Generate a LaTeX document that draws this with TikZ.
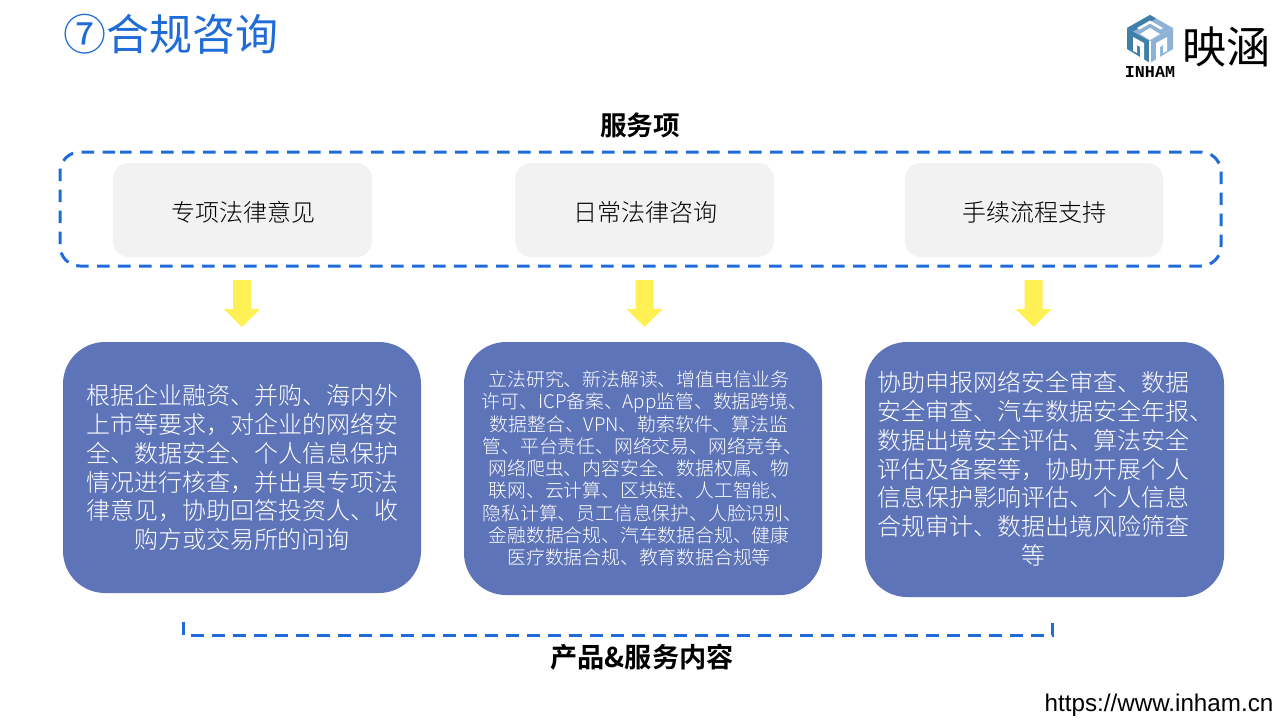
\documentclass[tikz,border=0pt]{standalone}
\usepackage{fontspec}
\setmainfont{Noto Sans CJK SC}[UprightFont=* Light,BoldFont=* Bold]
\newfontfamily\cjkreg{Noto Sans CJK SC}
\newfontfamily\cjkbold{Noto Sans CJK SC Bold}
\newfontfamily\urlfont{Liberation Sans}
\newfontfamily\logofont{Liberation Mono Bold}
\definecolor{tblue}{HTML}{1F6BD8}
\definecolor{boxblue}{HTML}{5E74B8}
\definecolor{boxgray}{HTML}{F2F2F2}
\definecolor{arrowy}{HTML}{FFF153}
\definecolor{logod}{HTML}{3F7FA8}
\definecolor{logol}{HTML}{8DB2D6}
\newcommand{\fs}[2]{\fontsize{#1}{#2}\selectfont}
\tikzset{
  x=1pt,y=-1pt,
  graybox/.style={fill=boxgray,rounded corners=16pt,minimum height=94pt,minimum width=259pt,inner sep=0pt,font=\fs{24}{28},text=black,text height=25pt,text depth=3pt},
  bluebox/.style={fill=boxblue,rounded corners=42pt,inner sep=0pt,text=white,align=center,text width=340pt},
  dashline/.style={draw=tblue,line width=3pt,dash pattern=on 12.5pt off 8.5pt},
  headlabel/.style={inner sep=0pt,font=\cjkbold\fs{27.2}{30},text=black},
  blockarrow/.style={fill=arrowy,draw=none},
}
\begin{document}
\begin{tikzpicture}
\useasboundingbox (0,0) rectangle (1280,720);
\node[inner sep=0pt,text=tblue,font=\cjkreg\fs{43}{48}] (title) at (170.5,34) {⑦合规咨询};
% logo
\fill[logod] (1127,28) -- (1150,41) -- (1150,63) -- (1127,49) -- cycle;
\fill[logol] (1173,28) -- (1150,41) -- (1150,63) -- (1173,49) -- cycle;
\fill[logol] (1150,15) -- (1173,28) -- (1150,41) -- (1127,28) -- cycle;
\fill[logod] (1150,15) -- (1156,18.5) -- (1133,31.5) -- (1127,28) -- cycle;
\fill[white] (1150,28) -- (1160,34) -- (1150,40) -- (1140,34) -- cycle;
\fill[white] (1150,20.5) -- (1163,28) -- (1160.5,29.5) -- (1150,23.5) -- (1139.5,29.5) -- (1137,28) -- cycle;
\fill[white] (1149,41) -- (1151,41) -- (1151,64) -- (1149,64) -- cycle;
\fill[white] (1133,37) -- (1144,43) -- (1144,60) -- (1140,58) -- (1140,47) -- (1137,45) -- (1137,53) -- (1133,51) -- cycle;
\fill[white] (1167,37) -- (1156,43) -- (1156,60) -- (1160,58) -- (1160,47) -- (1163,45) -- (1163,53) -- (1167,51) -- cycle;
\node[inner sep=0pt,font=\logofont\fs{16.7}{17}] (logotext) at (1150,71.5) {INHAM};
\node[inner sep=0pt,font=\cjkreg\fs{44}{46}] (logocn) at (1226.5,47) {映涵};
\node[headlabel,font=\cjkbold\fs{26.67}{30}] (head) at (640,125) {服务项};
\draw[dashline,dash phase=1pt,rounded corners=20pt] (100,152) -- (1221,152) -- (1221,266) -- (60,266) -- (60,152) -- cycle;
\node[graybox] (g1) at (242.5,210) {\hspace*{2pt}专项法律意见};
\node[graybox] (g2) at (644.5,210) {\hspace*{2pt}日常法律咨询};
\node[graybox,minimum width=258pt] (g3) at (1034,210) {手续流程支持};
\foreach \x in {242,644.5,1033.5}{
  \fill[blockarrow] (\x-9,280) -- (\x+9,280) -- (\x+9,309) -- (\x+18,309) -- (\x,327) -- (\x-18,309) -- (\x-9,309) -- cycle;
}
\node[bluebox,minimum width=358pt,minimum height=251pt,font=\fs{24}{28.8}] (b1) at (242,467.5) {根据企业融资、并购、海内外\\上市等要求，对企业的网络安\\全、数据安全、个人信息保护\\情况进行核查，并出具专项法\\律意见，协助回答投资人、收\\购方或交易所的问询};
\node[bluebox,minimum width=358pt,minimum height=253pt,font=\fs{18.8}{22.3}] (b2) at (643,468.5) {\hspace*{-8pt}立法研究、新法解读、增值电信业务\\\hspace*{-16pt}许可、ICP备案、App监管、数据跨境\rlap{、}\\\hspace*{-8pt}数据整合、VPN、勒索软件、算法监\\\hspace*{-20pt}管、平台责任、网络交易、网络竞争\rlap{、}\\\hspace*{-8pt}网络爬虫、内容安全、数据权属、物\\\hspace*{-8pt}联网、云计算、区块链、人工智能、\\\hspace*{-20pt}隐私计算、员工信息保护、人脸识别\rlap{、}\\\hspace*{-8pt}金融数据合规、汽车数据合规、健康\\\hspace*{-8pt}医疗数据合规、教育数据合规等};
\node[bluebox,minimum width=359pt,minimum height=255pt,font=\fs{24}{28.7}] (b3) at (1044.5,469.5) {\hspace*{-23pt}协助申报网络安全审查、数据\\\hspace*{-23pt}安全审查、汽车数据安全年报\rlap{、}\\\hspace*{-23pt}数据出境安全评估、算法安全\\\hspace*{-23pt}评估及备案等，协助开展个人\\\hspace*{-23pt}信息保护影响评估、个人信息\\\hspace*{-23pt}合规审计、数据出境风险筛查\\\hspace*{-23pt}等\par\vspace{1.4pt}};
\coordinate (brL) at (183,622);
\coordinate (brR) at (1052,622);
\draw[dashline] (brL) -- (183,635) -- (1052,635) -- (brR);
\node[headlabel] (foot) at (642,657) {产品\&服务内容};
\node[inner sep=0pt,font=\urlfont\fs{24.2}{28},text=black] (url) at (1159,705) {https://www.inham.cn};
\end{tikzpicture}
\end{document}
